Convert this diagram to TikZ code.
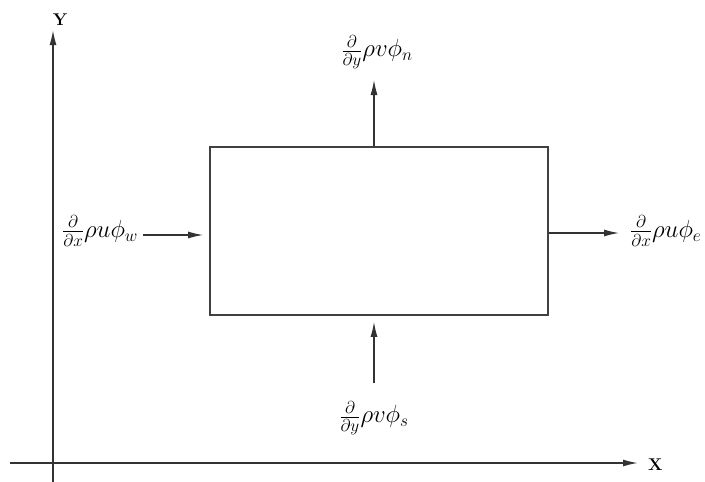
\documentclass[tikz,border=0pt]{standalone}
\usetikzlibrary{arrows.meta}
\begin{document}
\begin{tikzpicture}[x=1pt,y=-1pt,
  ax/.style={line width=1.5pt, draw=black!80, -{Latex[length=15pt,width=7pt]}},
  flux/.style={line width=1.2pt, draw=black!80, -{Latex[length=15pt,width=7pt]}},
  lbl/.style={inner sep=0pt, font=\fontsize{26}{31}\selectfont},
  axl/.style={inner sep=0pt, font=\fontsize{17}{20}\selectfont\bfseries}]
\useasboundingbox (0,0) rectangle (705,482);
% axes
\coordinate (yb) at (53,482);
\coordinate (yt) at (53,30);
\coordinate (xl) at (10,463);
\coordinate (xr) at (638,463);
\draw[ax] (yb) -- (yt);
\draw[ax] (xl) -- (xr);
\node[axl, anchor=south] (ylab) at (60,26) {Y};
\node[axl, anchor=west] (xlab) at (648,465) {X};
% control volume
\node[draw=black!75, line width=1.8pt, minimum width=338pt, minimum height=168pt, inner sep=0pt] (box) at (379,231) {};
% labels
\node[lbl] (ln) at (377,52) {$\frac{\partial}{\partial y}\rho v\phi_n$};
\node[lbl] (ls) at (374,418) {$\frac{\partial}{\partial y}\rho v\phi_s$};
\node[lbl, anchor=west] (lw) at (62,231) {$\frac{\partial}{\partial x}\rho u\phi_w$};
\node[lbl, anchor=west] (le) at (630,231) {$\frac{\partial}{\partial x}\rho u\phi_e$};
% flux arrows
\coordinate (nt) at (374,80);
\coordinate (sb) at (374,383);
\coordinate (wl) at (143,235);
\coordinate (er) at (619,233);
\draw[flux] ([xshift=-5pt]box.north) -- (nt);
\draw[flux] (sb) -- ([xshift=-5pt,yshift=-6pt]box.south);
\draw[flux] (wl) -- ([xshift=-6pt,yshift=-4pt]box.west);
\draw[flux] ([yshift=-2pt]box.east) -- (er);
\end{tikzpicture}
\end{document}
